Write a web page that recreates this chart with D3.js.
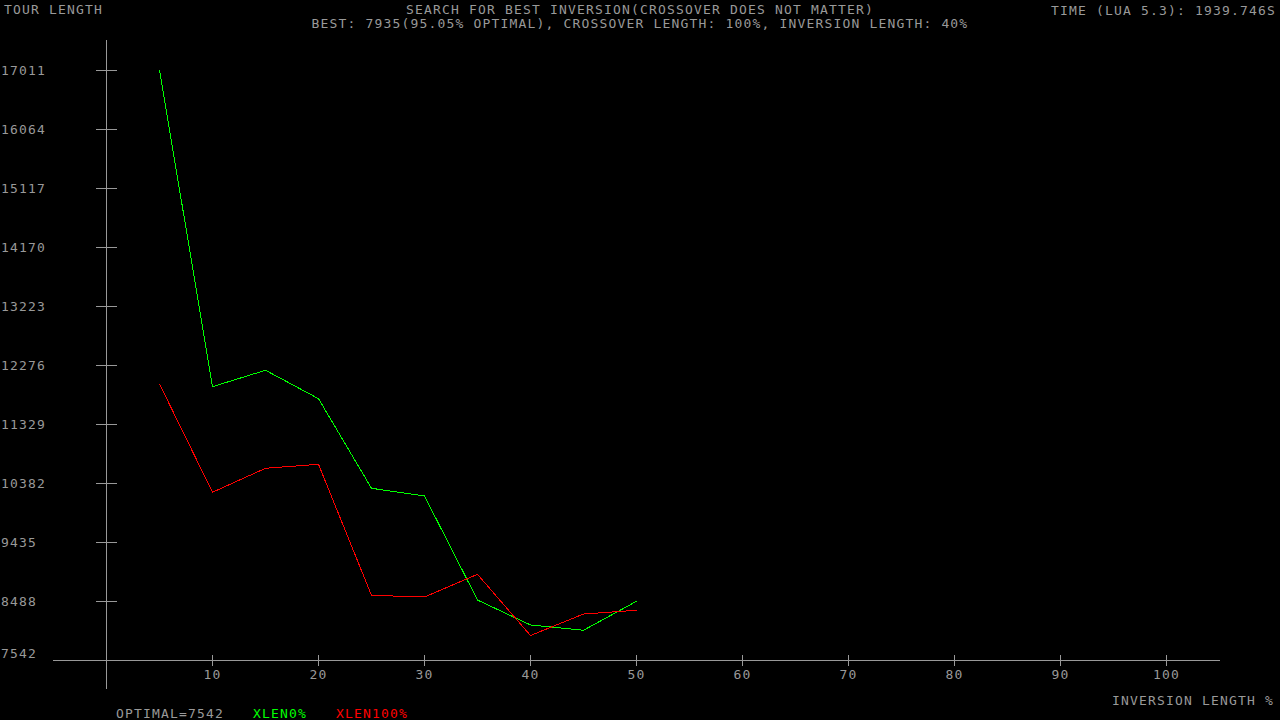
<!DOCTYPE html>
<html>
<head>
<meta charset="utf-8">
<script src="https://cdn.jsdelivr.net/npm/d3@7"></script>
<style>
  html,body{margin:0;padding:0;background:#000;}
  text{font-family:"DejaVu Sans Mono",monospace;font-size:13px;letter-spacing:1.17px;fill:#999;}
</style>
</head>
<body>
<div id="chart"></div>
<script>
// inversion length % on x
var inversionLen = [5,10,15,20,25,30,35,40,45,50];
// tour length for crossover length 0% and 100%
var xlen0   = [17011,11929,12192,11736,10298,10174,8505,8104,8019,8484];
var xlen100 = [11972,10234,10619,10683,8580,8553,8917,7935,8280,8340];
var yTicks = [7542,8488,9435,10382,11329,12276,13223,14170,15117,16064,17011];
var xTicks = [10,20,30,40,50,60,70,80,90,100];
var optimal = 7542;

var width = 1280, height = 720;
var axisColor = "#999";

var svg = d3.select("#chart")
    .append("svg")
    .attr("width",width)
    .attr("height",height)
    .style("display","block")
    .style("background","#000");

var xScale = d3.scaleLinear().domain([0,100]).range([106.5,1166.5]);
var yScale = d3.scaleLinear().domain([7542,17011]).range([660,70]);

// axes lines
svg.append("line")
    .attr("x1",xScale(0)).attr("x2",xScale(0))
    .attr("y1",40).attr("y2",689)
    .attr("stroke",axisColor).attr("shape-rendering","crispEdges");
svg.append("line")
    .attr("x1",53).attr("x2",1220)
    .attr("y1",yScale(optimal)).attr("y2",yScale(optimal))
    .attr("stroke",axisColor).attr("shape-rendering","crispEdges");

// y ticks
svg.append("g").selectAll("line")
    .data(yTicks.slice(1))
    .enter().append("line")
    .attr("x1",96).attr("x2",117)
    .attr("y1",d=>yScale(d)+0.5).attr("y2",d=>yScale(d)+0.5)
    .attr("stroke",axisColor).attr("shape-rendering","crispEdges");
svg.append("g").selectAll("text")
    .data(yTicks)
    .enter().append("text")
    .attr("x",1)
    .attr("y",(d,i)=> i==0 ? yScale(d)-2 : yScale(d)+5)
    .text(d=>d);

// x ticks
svg.append("g").selectAll("line")
    .data(xTicks)
    .enter().append("line")
    .attr("x1",d=>xScale(d)).attr("x2",d=>xScale(d))
    .attr("y1",655).attr("y2",666)
    .attr("stroke",axisColor).attr("shape-rendering","crispEdges");
svg.append("g").selectAll("text")
    .data(xTicks)
    .enter().append("text")
    .attr("x",d=>xScale(d))
    .attr("y",679)
    .attr("text-anchor","middle")
    .text(d=>d);

// series
var line = d3.line()
    .x((d,i)=>xScale(inversionLen[i]))
    .y(d=>yScale(d));
[[xlen0,"#00ff00"],[xlen100,"#ff0000"]].forEach(function(s){
    svg.append("path")
        .datum(s[0])
        .attr("d",line)
        .attr("fill","none")
        .attr("stroke",s[1])
        .attr("stroke-width",1)
        .attr("shape-rendering","crispEdges");
});

// texts
svg.append("text").attr("x",4).attr("y",14).text("TOUR LENGTH");
svg.append("text").attr("x",640).attr("y",14).attr("text-anchor","middle")
    .text("SEARCH FOR BEST INVERSION(CROSSOVER DOES NOT MATTER)");
svg.append("text").attr("x",640).attr("y",28).attr("text-anchor","middle")
    .text("BEST: 7935(95.05% OPTIMAL), CROSSOVER LENGTH: 100%, INVERSION LENGTH: 40%");
svg.append("text").attr("x",1276).attr("y",15).attr("text-anchor","end")
    .text("TIME (LUA 5.3): 1939.746S");
svg.append("text").attr("x",1274).attr("y",705).attr("text-anchor","end")
    .text("INVERSION LENGTH %");
svg.append("text").attr("x",116).attr("y",718).text("OPTIMAL="+optimal);
svg.append("text").attr("x",253).attr("y",718).style("fill","#00ff00").text("XLEN0%");
svg.append("text").attr("x",336).attr("y",718).style("fill","#ff0000").text("XLEN100%");
</script>
</body>
</html>
